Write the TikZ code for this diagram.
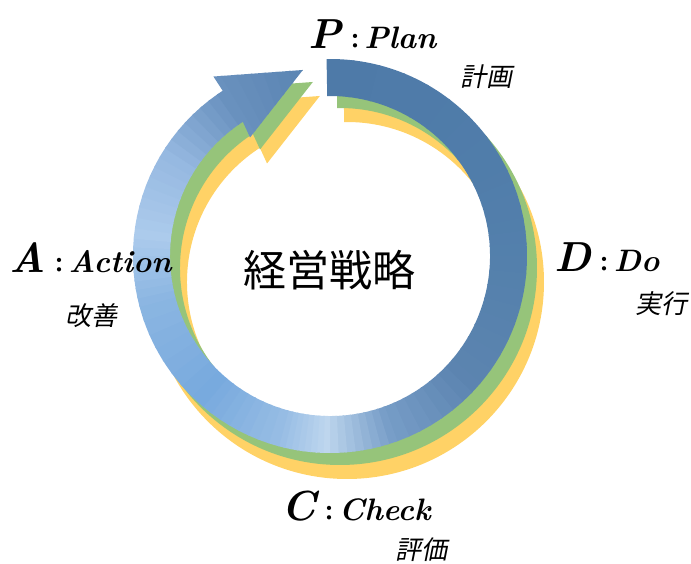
\documentclass[tikz,border=0pt]{standalone}
\usepackage{fontspec}
\newfontfamily\jpfont{Noto Sans CJK JP}
\newfontfamily\jpslant[FakeSlant=0.2]{Noto Sans CJK JP}

\definecolor{leaf}{RGB}{150,196,122}
\definecolor{sun}{RGB}{255,210,102}
\definecolor{bu0}{RGB}{78,122,168}
\definecolor{bu1}{RGB}{80,125,170}
\definecolor{bu2}{RGB}{84,128,172}
\definecolor{bu3}{RGB}{92,132,176}
\definecolor{bu4}{RGB}{120,158,200}
\definecolor{bu5}{RGB}{190,214,238}
\definecolor{bu6}{RGB}{150,188,228}
\definecolor{bu7}{RGB}{120,170,222}
\definecolor{bu8}{RGB}{140,182,226}
\definecolor{bu9}{RGB}{172,203,236}
\definecolor{bu10}{RGB}{150,185,225}
\definecolor{bu11}{RGB}{105,145,190}
\definecolor{bu12}{RGB}{88,130,176}

\newcommand\cyclepath{(91:197pt) arc[start angle=91, end angle=-237, radius=197pt]
  -- (-237:214pt) -- (-261.7:188pt) -- (-236:143pt) -- (-237:160pt)
  arc[start angle=-237, end angle=91, radius=160pt] -- cycle}
\newcommand\phaselabel[2]{{\fontsize{42}{42}\selectfont #1}\kern4pt{\jpfont\fontsize{20}{20}\selectfont ：}\kern-1pt{\fontsize{31}{31}\selectfont #2}}

\tikzstyle{phase}=[anchor=base west, inner sep=0pt, font=\bfseries\itshape]
\tikzstyle{gloss}=[inner sep=0pt, font=\jpslant\fontsize{26}{26}\selectfont]
\tikzstyle{core}=[inner sep=0pt, font=\jpfont\fontsize{43}{43}\selectfont]

\begin{document}
\begin{tikzpicture}[x=1pt,y=1pt]
\useasboundingbox (0,0) rectangle (691,563);
\coordinate (c) at (330,307);

% shadows
\fill[sun, shift={(c)}, xshift=17pt, yshift=-26pt] \cyclepath;
\fill[leaf, shift={(c)}, xshift=10pt, yshift=-12pt] \cyclepath;

% blue arrow, swept shading
\begin{scope}[shift={(c)}]
  \clip \cyclepath;
  \foreach \a/\b/\ca/\cb in {91/30/bu0/bu1, 30/0/bu1/bu2, 0/-40/bu2/bu3, -40/-70/bu3/bu4,
      -70/-90/bu4/bu5, -90/-105/bu5/bu6, -105/-130/bu6/bu7, -130/-165/bu7/bu8,
      -165/-185/bu8/bu9, -185/-210/bu9/bu10, -210/-235/bu10/bu11, -235/-265/bu11/bu12} {
    \foreach \k in {0,...,7} {
      \pgfmathsetmacro\angA{\a+(\b-\a)*\k/8}
      \pgfmathsetmacro\angB{\a+(\b-\a)*(\k+1)/8-0.6}
      \pgfmathtruncatemacro\pct{100*\k/8}
      \fill[\cb!\pct!\ca] (0,0) -- (\angA:240pt) -- (\angB:240pt) -- cycle;
    }
  }
\end{scope}

\node[core] (goal) at (329,293) {経営戦略};

\node[phase] (plan) at (308,514) {\phaselabel{P}{Plan}};
\node[gloss] (plan jp) at (486,486) {計画};
\node[phase] (do) at (554,291) {\phaselabel{D}{Do}};
\node[gloss] (do jp) at (661,259) {実行};
\node[phase] (check) at (281,43) {\phaselabel{C}{Check}};
\node[gloss] (check jp) at (421,13) {評価};
\node[phase] (act) at (9,290) {\phaselabel{A}{Action}};
\node[gloss] (act jp) at (91,247) {改善};
\end{tikzpicture}
\end{document}
